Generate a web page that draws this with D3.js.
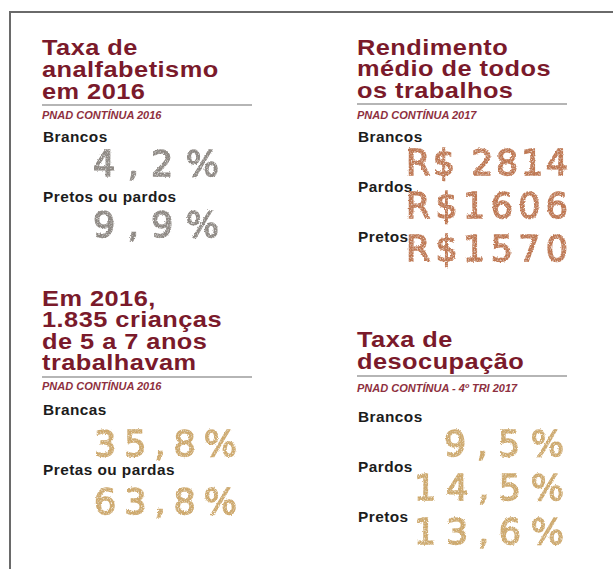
<!DOCTYPE html>
<html>
<head>
<meta charset="utf-8">
<script src="https://cdn.jsdelivr.net/npm/d3@7"></script>
<style>
  html, body { margin: 0; padding: 0; background: #fff; }
  svg { display: block; }
</style>
</head>
<body>
<svg id="chart" width="613" height="569"></svg>
<script>
// ---- data ----
const analfTitle = ["Taxa de", "analfabetismo", "em 2016"];
const analfSource = "PNAD CONTÍNUA 2016";
const analfLabels = ["Brancos", "Pretos ou pardos"];
const analfValues = [4.2, 9.9];

const rendTitle = ["Rendimento", "médio de todos", "os trabalhos"];
const rendSource = "PNAD CONTÍNUA 2017";
const rendLabels = ["Brancos", "Pardos", "Pretos"];
const rendValues = [2814, 1606, 1570];

const criTitle = ["Em 2016,", "1.835 crianças", "de 5 a 7 anos", "trabalhavam"];
const criSource = "PNAD CONTÍNUA 2016";
const criLabels = ["Brancas", "Pretas ou pardas"];
const criValues = [35.8, 63.8];

const desocTitle = ["Taxa de", "desocupação"];
const desocSource = "PNAD CONTÍNUA - 4º TRI 2017";
const desocLabels = ["Brancos", "Pardos", "Pretos"];
const desocValues = [9.5, 14.5, 13.6];

// ---- formatting ----
const ptBR = d3.formatLocale({decimal: ",", thousands: ".", grouping: [3], currency: ["R$", ""]});
const pct = v => ptBR.format(".1f")(v) + "%";
const brl = (v, i) => (i === 0 ? "R$ " : "R$") + ptBR.format("d")(v);

const svg = d3.select("#chart");
const defs = svg.append("defs");

// grainy "hand-drawn" texture filter
function grain(id, seed, dark) {
  const f = defs.append("filter").attr("id", id)
    .attr("x", "-10%").attr("y", "-20%").attr("width", "120%").attr("height", "140%");
  f.append("feTurbulence").attr("type", "fractalNoise").attr("baseFrequency", 0.7)
    .attr("numOctaves", 2).attr("seed", seed).attr("result", "n");
  f.append("feDisplacementMap").attr("in", "SourceGraphic").attr("in2", "n")
    .attr("scale", 2.5).attr("xChannelSelector", "R").attr("yChannelSelector", "G").attr("result", "d");
  f.append("feColorMatrix").attr("in", "n").attr("type", "matrix")
    .attr("values", "0 0 0 0 0  0 0 0 0 0  0 0 0 0 0  2.4 0 0 0 -0.2").attr("result", "a");
  f.append("feComposite").attr("in", "d").attr("in2", "a").attr("operator", "in").attr("result", "t");
  f.append("feColorMatrix").attr("in", "n").attr("type", "matrix")
    .attr("values", `0 0 0 0 ${dark[0]}  0 0 0 0 ${dark[1]}  0 0 0 0 ${dark[2]}  0 3 0 0 -1.45`).attr("result", "dk");
  f.append("feComposite").attr("in", "dk").attr("in2", "d").attr("operator", "in").attr("result", "dk2");
  const m = f.append("feMerge");
  m.append("feMergeNode").attr("in", "t");
  m.append("feMergeNode").attr("in", "dk2");
}
grain("g1", 2, [0.35, 0.33, 0.31]);
grain("g2", 5, [0.55, 0.3, 0.2]);
grain("g3", 9, [0.6, 0.45, 0.25]);
grain("g4", 13, [0.6, 0.45, 0.25]);

// frame
svg.append("line").attr("x1", 10).attr("y1", 12).attr("x2", 613).attr("y2", 12)
  .attr("stroke", "#6a6a6a").attr("stroke-width", 2);
svg.append("line").attr("x1", 10).attr("y1", 11).attr("x2", 10).attr("y2", 569)
  .attr("stroke", "#6a6a6a").attr("stroke-width", 2);

const TITLE_COLOR = "#7a1a2b";
const SRC_COLOR = "#8e3040";
const SANS = "'Liberation Sans', Arial, sans-serif";

function panel(cfg) {
  const g = svg.append("g");
  // title (horizontally stretched like the original)
  const t = g.append("text")
    .attr("transform", `translate(${cfg.x},0) scale(1.18,1)`)
    .attr("font-family", SANS)
    .attr("font-weight", "bold").attr("font-size", 21.5)
    .attr("letter-spacing", 0.4)
    .attr("fill", TITLE_COLOR);
  t.selectAll("tspan").data(cfg.title).join("tspan")
    .attr("x", 0).attr("y", (d, i) => cfg.titleY + i * cfg.lineH).text(d => d);
  // rule
  g.append("line").attr("x1", cfg.x).attr("x2", cfg.x + 210)
    .attr("y1", cfg.ruleY).attr("y2", cfg.ruleY)
    .attr("stroke", "#9c9c9c").attr("stroke-width", 1.6);
  // source
  g.append("text").attr("transform", `translate(${cfg.x},${cfg.srcY}) scale(1.05,1)`)
    .attr("font-family", SANS)
    .attr("font-weight", "bold").attr("font-style", "italic").attr("font-size", 10.5)
    .attr("fill", SRC_COLOR).text(cfg.source);

  const idx = d3.range(cfg.labels.length);
  const yLab = d3.scaleLinear().domain([0, idx.length - 1]).range(cfg.labRange);
  const yVal = d3.scaleLinear().domain([0, idx.length - 1]).range(cfg.valRange);

  g.selectAll("text.lab").data(cfg.labels).join("text").attr("class", "lab")
    .attr("transform", (d, i) => `translate(${cfg.x + 1},${yLab(i)}) scale(1.1,1)`)
    .attr("font-family", SANS).attr("font-weight", "bold")
    .attr("font-size", 14).attr("letter-spacing", 0.4)
    .attr("fill", "#1c1c1c").text(d => d);

  g.selectAll("text.val").data(cfg.values).join("text").attr("class", "val")
    .attr("x", cfg.valX).attr("y", (d, i) => yVal(i))
    .attr("text-anchor", cfg.anchor || "start")
    .attr("font-family", "'DejaVu Sans', sans-serif")
    .attr("font-size", 35)
    .attr("fill", cfg.color).attr("stroke", cfg.color).attr("stroke-width", 1.3)
    .attr("textLength", (d, i) => cfg.valW(cfg.fmt(d, i)))
    .attr("lengthAdjust", "spacing")
    .attr("filter", `url(#${cfg.filter})`)
    .text((d, i) => cfg.fmt(d, i));
}

panel({
  x: 42, title: analfTitle, titleY: 55, lineH: 22, ruleY: 105, srcY: 119,
  source: analfSource, labels: analfLabels, values: analfValues,
  labRange: [142, 202], valRange: [176, 237], valX: 93, fmt: pct,
  valW: s => s.length * 31.5, color: "#8d8883", filter: "g1"
});
panel({
  x: 357, title: rendTitle, titleY: 55, lineH: 21.5, ruleY: 104, srcY: 119,
  source: rendSource, labels: rendLabels, values: rendValues,
  labRange: [142, 242], valRange: [175, 261], valX: 406, fmt: brl,
  valW: s => 162, color: "#bf7751", filter: "g2"
});
panel({
  x: 42, title: criTitle, titleY: 306, lineH: 21.5, ruleY: 377, srcY: 390,
  source: criSource, labels: criLabels, values: criValues,
  labRange: [415, 475], valRange: [456, 514], valX: 94, fmt: pct,
  valW: s => s.length * 28.6, color: "#cfa96c", filter: "g3"
});
panel({
  x: 357, title: desocTitle, titleY: 347, lineH: 22, ruleY: 376, srcY: 392,
  source: desocSource, labels: desocLabels, values: desocValues,
  labRange: [422, 522], valRange: [456, 544], valX: 564, anchor: "end", fmt: pct,
  valW: s => s.length * 30, color: "#cfa96c", filter: "g4"
});
</script>
</body>
</html>
